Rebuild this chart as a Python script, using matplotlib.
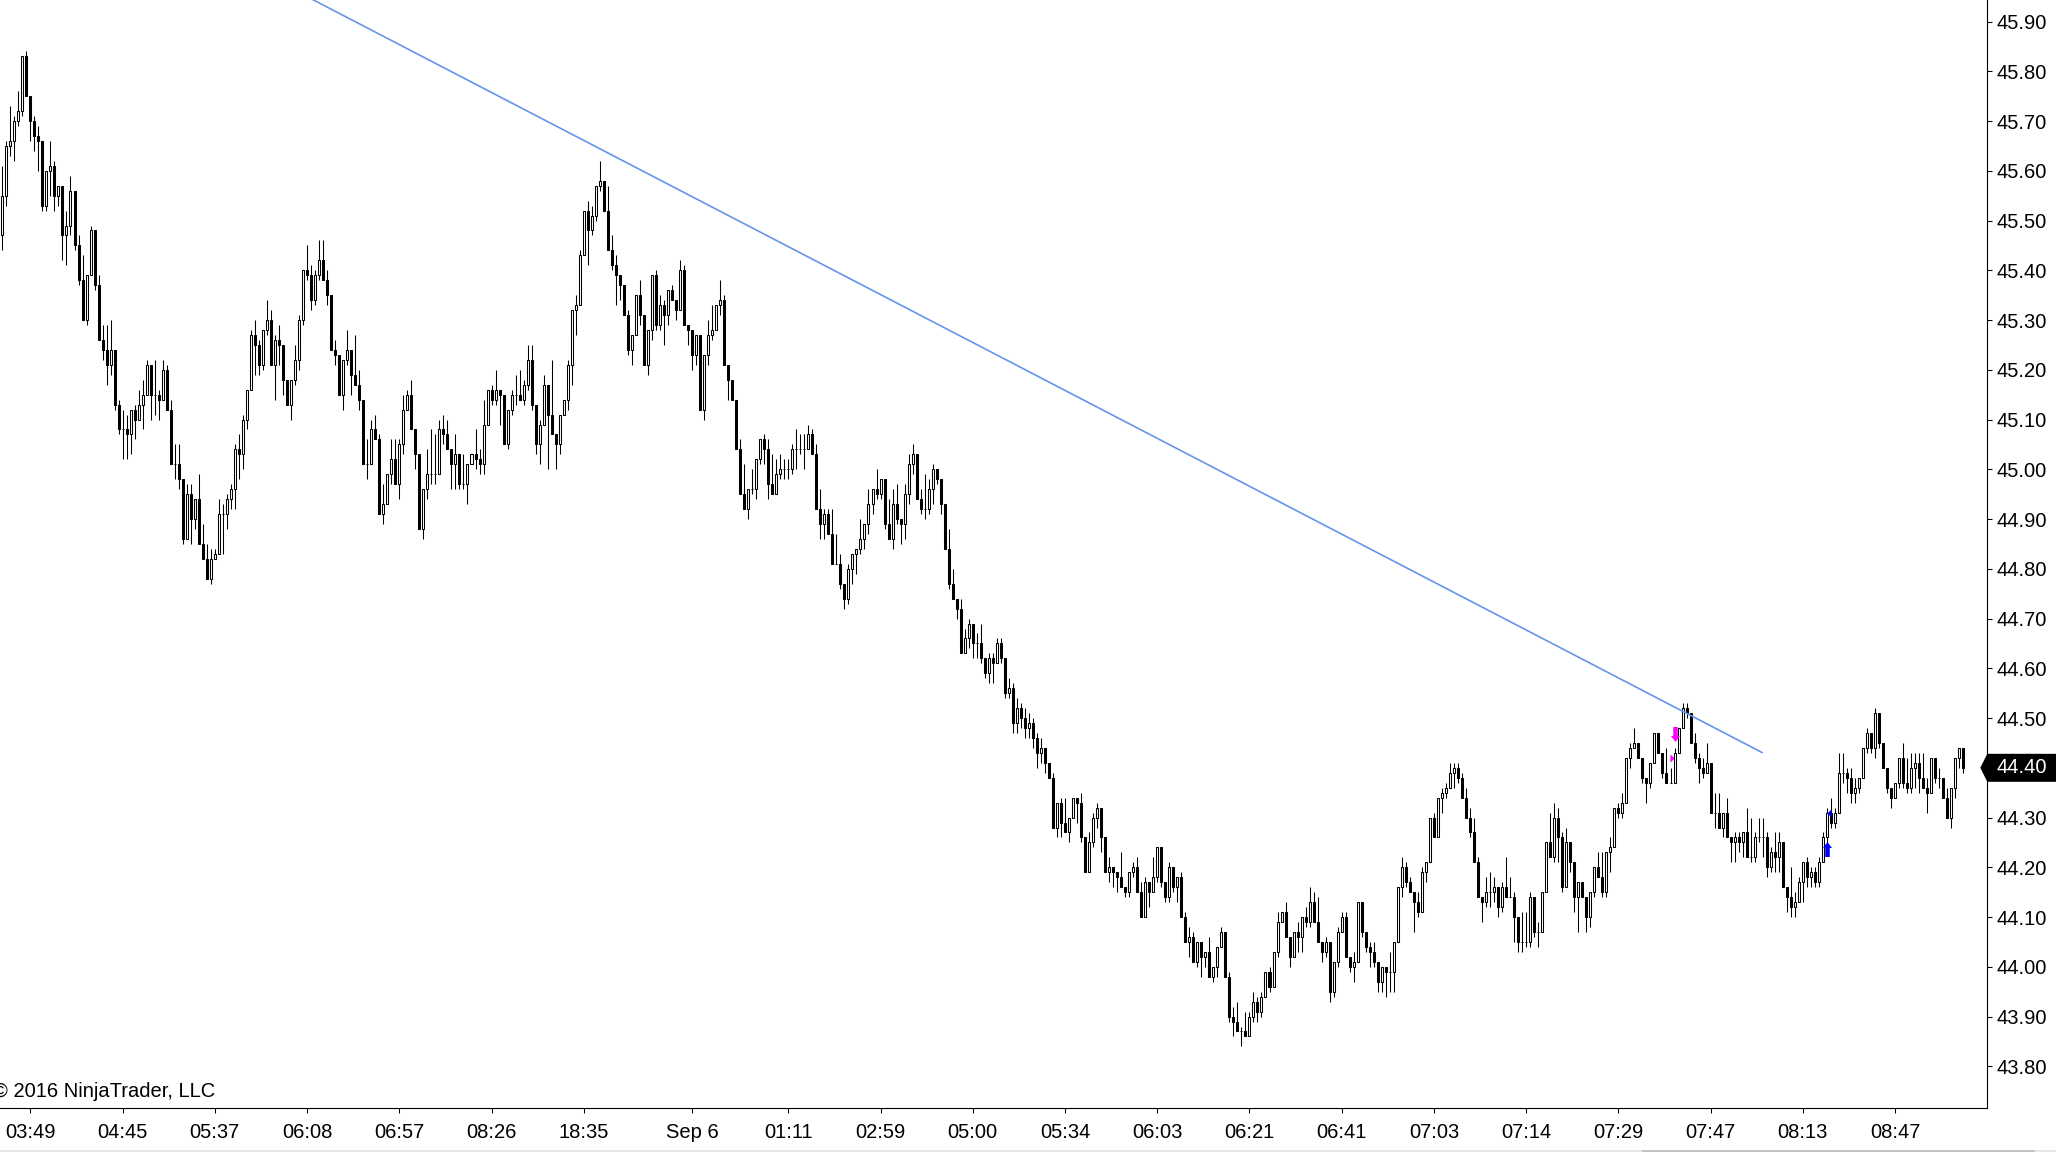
import matplotlib
matplotlib.use("Agg")
import matplotlib.pyplot as plt
from matplotlib.path import Path
from matplotlib.patches import Polygon, Rectangle
from matplotlib.transforms import IdentityTransform

plt.rcParams['font.family'] = ['Liberation Sans', 'DejaVu Sans']

# 1-bar candles (open = previous close)
first_open = 45.47
closes = [
    45.55, 45.65, 45.66, 45.70, 45.72, 45.83, 45.75, 45.70, 45.67, 45.66,
    45.53, 45.60, 45.61, 45.55, 45.57, 45.47, 45.49, 45.56, 45.45, 45.38,
    45.30, 45.39, 45.48, 45.37, 45.26, 45.24, 45.21, 45.24, 45.13, 45.08,
    45.08, 45.07, 45.12, 45.10, 45.13, 45.15, 45.21, 45.15, 45.15, 45.14,
    45.20, 45.12, 45.01, 45.01, 44.98, 44.86, 44.95, 44.90, 44.94, 44.85,
    44.82, 44.78, 44.82, 44.83, 44.91, 44.91, 44.94, 44.96, 45.04, 45.03,
    45.10, 45.16, 45.27, 45.25, 45.21, 45.28, 45.30, 45.21, 45.26, 45.25,
    45.18, 45.13, 45.18, 45.22, 45.30, 45.40, 45.39, 45.34, 45.39, 45.42,
    45.38, 45.35, 45.24, 45.23, 45.15, 45.22, 45.24, 45.19, 45.17, 45.14,
    45.01, 45.01, 45.08, 45.06, 44.91, 44.93, 44.99, 45.02, 44.97, 45.05,
    45.12, 45.15, 45.08, 45.03, 44.88, 44.96, 44.99, 44.99, 44.99, 45.08,
    45.07, 45.04, 45.01, 45.03, 44.97, 44.97, 45.01, 45.03, 45.02, 45.01,
    45.09, 45.16, 45.14, 45.16, 45.15, 45.05, 45.12, 45.15, 45.15, 45.14,
    45.17, 45.22, 45.13, 45.05, 45.09, 45.17, 45.11, 45.07, 45.05, 45.11,
    45.14, 45.21, 45.32, 45.33, 45.43, 45.52, 45.48, 45.51, 45.57, 45.58,
    45.52, 45.44, 45.41, 45.39, 45.37, 45.31, 45.24, 45.27, 45.35, 45.31,
    45.21, 45.28, 45.39, 45.29, 45.33, 45.31, 45.36, 45.34, 45.32, 45.40,
    45.29, 45.28, 45.23, 45.27, 45.12, 45.23, 45.27, 45.28, 45.33, 45.34,
    45.21, 45.18, 45.14, 45.04, 44.95, 44.92, 44.96, 44.96, 45.02, 45.06,
    45.04, 44.97, 44.95, 44.99, 45.00, 45.00, 45.00, 45.04, 45.04, 45.04,
    45.04, 45.07, 45.03, 44.92, 44.89, 44.91, 44.87, 44.81, 44.81, 44.77,
    44.74, 44.80, 44.83, 44.84, 44.86, 44.89, 44.93, 44.96, 44.95, 44.98,
    44.89, 44.86, 44.93, 44.90, 44.89, 44.95, 45.01, 45.03, 44.94, 44.92,
    44.92, 44.96, 45.00, 44.98, 44.93, 44.84, 44.77, 44.74, 44.72, 44.63,
    44.66, 44.69, 44.65, 44.65, 44.62, 44.59, 44.62, 44.61, 44.65, 44.62,
    44.55, 44.56, 44.49, 44.52, 44.50, 44.48, 44.49, 44.46, 44.43, 44.44,
    44.41, 44.38, 44.28, 44.33, 44.29, 44.27, 44.30, 44.34, 44.33, 44.26,
    44.19, 44.25, 44.30, 44.32, 44.26, 44.19, 44.20, 44.19, 44.18, 44.16,
    44.15, 44.19, 44.20, 44.15, 44.10, 44.17, 44.15, 44.18, 44.24, 44.17,
    44.14, 44.20, 44.16, 44.18, 44.10, 44.05, 44.06, 44.01, 44.05, 44.02,
    44.03, 43.98, 44.00, 44.04, 44.07, 43.98, 43.90, 43.89, 43.87, 43.87,
    43.86, 43.90, 43.93, 43.91, 43.94, 43.99, 43.96, 44.03, 44.09, 44.11,
    44.06, 44.02, 44.07, 44.06, 44.10, 44.09, 44.13, 44.09, 44.05, 44.03,
    44.05, 43.95, 44.01, 44.07, 44.10, 44.02, 44.00, 44.01, 44.13, 44.07,
    44.04, 44.03, 44.01, 43.97, 44.00, 43.99, 43.99, 44.05, 44.16, 44.20,
    44.17, 44.15, 44.13, 44.11, 44.19, 44.21, 44.30, 44.26, 44.34, 44.35,
    44.36, 44.39, 44.40, 44.38, 44.34, 44.30, 44.27, 44.21, 44.14, 44.13,
    44.15, 44.15, 44.16, 44.12, 44.16, 44.14, 44.14, 44.10, 44.05, 44.05,
    44.05, 44.14, 44.07, 44.07, 44.15, 44.25, 44.22, 44.30, 44.26, 44.16,
    44.25, 44.21, 44.14, 44.17, 44.14, 44.10, 44.15, 44.20, 44.18, 44.15,
    44.23, 44.24, 44.32, 44.31, 44.33, 44.42, 44.44, 44.45, 44.42, 44.38,
    44.37, 44.41, 44.47, 44.43, 44.39, 44.37, 44.37, 44.43, 44.48, 44.52,
    44.51, 44.45, 44.42, 44.40, 44.39, 44.41, 44.31, 44.31, 44.28, 44.31,
    44.26, 44.25, 44.26, 44.25, 44.27, 44.22, 44.22, 44.26, 44.26, 44.26,
    44.20, 44.23, 44.22, 44.25, 44.16, 44.14, 44.12, 44.13, 44.17, 44.21,
    44.18, 44.19, 44.17, 44.21, 44.26, 44.31, 44.29, 44.31, 44.39, 44.39,
    44.38, 44.35, 44.36, 44.38, 44.44, 44.47, 44.44, 44.51, 44.45, 44.40,
    44.36, 44.34, 44.37, 44.42, 44.37, 44.36, 44.40, 44.41, 44.38, 44.36,
    44.35, 44.42, 44.38, 44.38, 44.34, 44.30, 44.36, 44.42, 44.44, 44.40,
]
highs = [
    45.61, 45.66, 45.73, 45.71, 45.76, 45.83, 45.84, 45.75, 45.71, 45.69,
    45.66, 45.60, 45.66, 45.62, 45.57, 45.57, 45.52, 45.59, 45.56, 45.47,
    45.43, 45.39, 45.49, 45.48, 45.39, 45.29, 45.29, 45.30, 45.24, 45.14,
    45.12, 45.11, 45.12, 45.13, 45.16, 45.18, 45.22, 45.21, 45.22, 45.16,
    45.22, 45.21, 45.14, 45.05, 45.05, 44.98, 44.97, 44.97, 44.94, 44.99,
    44.89, 44.85, 44.84, 44.84, 44.94, 44.93, 44.95, 44.97, 45.05, 45.07,
    45.11, 45.16, 45.28, 45.30, 45.26, 45.28, 45.34, 45.32, 45.27, 45.29,
    45.25, 45.17, 45.18, 45.25, 45.31, 45.40, 45.45, 45.41, 45.40, 45.46,
    45.46, 45.40, 45.35, 45.26, 45.23, 45.22, 45.28, 45.24, 45.27, 45.20,
    45.14, 45.06, 45.10, 45.11, 45.07, 44.97, 44.99, 45.06, 45.06, 45.06,
    45.15, 45.16, 45.18, 45.08, 45.03, 44.96, 45.04, 45.08, 45.07, 45.10,
    45.11, 45.10, 45.04, 45.07, 45.03, 45.03, 45.01, 45.03, 45.08, 45.04,
    45.14, 45.16, 45.17, 45.20, 45.16, 45.15, 45.12, 45.16, 45.19, 45.20,
    45.18, 45.25, 45.25, 45.13, 45.10, 45.19, 45.11, 45.22, 45.07, 45.11,
    45.14, 45.22, 45.32, 45.35, 45.44, 45.52, 45.54, 45.53, 45.57, 45.62,
    45.58, 45.57, 45.47, 45.43, 45.39, 45.37, 45.32, 45.27, 45.35, 45.38,
    45.31, 45.28, 45.39, 45.40, 45.35, 45.34, 45.36, 45.37, 45.34, 45.42,
    45.41, 45.29, 45.28, 45.27, 45.27, 45.23, 45.30, 45.33, 45.33, 45.38,
    45.35, 45.21, 45.18, 45.14, 45.06, 45.01, 44.96, 45.00, 45.02, 45.06,
    45.07, 45.06, 45.03, 45.02, 45.03, 45.02, 45.02, 45.05, 45.08, 45.07,
    45.07, 45.09, 45.08, 45.05, 44.96, 44.92, 44.92, 44.92, 44.87, 44.83,
    44.77, 44.81, 44.83, 44.84, 44.90, 44.89, 44.96, 44.96, 45.00, 44.98,
    44.98, 44.94, 44.96, 44.97, 44.90, 44.97, 45.03, 45.05, 45.02, 44.96,
    44.99, 44.98, 45.01, 45.00, 44.98, 44.93, 44.88, 44.80, 44.74, 44.74,
    44.68, 44.70, 44.69, 44.67, 44.69, 44.62, 44.63, 44.63, 44.66, 44.66,
    44.62, 44.58, 44.57, 44.54, 44.53, 44.52, 44.51, 44.50, 44.47, 44.46,
    44.44, 44.41, 44.39, 44.33, 44.34, 44.34, 44.30, 44.34, 44.34, 44.35,
    44.26, 44.27, 44.31, 44.33, 44.32, 44.26, 44.22, 44.20, 44.19, 44.23,
    44.16, 44.19, 44.21, 44.22, 44.17, 44.18, 44.17, 44.22, 44.24, 44.24,
    44.17, 44.21, 44.20, 44.18, 44.19, 44.11, 44.08, 44.07, 44.05, 44.05,
    44.03, 44.06, 44.00, 44.04, 44.08, 44.07, 43.99, 43.92, 43.93, 43.88,
    43.91, 43.91, 43.95, 43.94, 43.95, 43.99, 44.00, 44.03, 44.11, 44.11,
    44.13, 44.06, 44.07, 44.09, 44.10, 44.12, 44.16, 44.15, 44.14, 44.05,
    44.06, 44.05, 44.01, 44.08, 44.11, 44.11, 44.02, 44.03, 44.13, 44.13,
    44.07, 44.05, 44.05, 44.01, 44.00, 44.00, 44.03, 44.05, 44.16, 44.22,
    44.21, 44.18, 44.15, 44.15, 44.20, 44.21, 44.30, 44.31, 44.34, 44.36,
    44.37, 44.41, 44.41, 44.41, 44.39, 44.36, 44.32, 44.30, 44.22, 44.14,
    44.18, 44.19, 44.18, 44.16, 44.17, 44.22, 44.18, 44.15, 44.10, 44.11,
    44.11, 44.15, 44.14, 44.09, 44.15, 44.25, 44.31, 44.33, 44.32, 44.27,
    44.28, 44.25, 44.21, 44.17, 44.17, 44.14, 44.15, 44.20, 44.23, 44.23,
    44.23, 44.26, 44.32, 44.33, 44.35, 44.42, 44.45, 44.48, 44.45, 44.42,
    44.38, 44.41, 44.47, 44.47, 44.43, 44.44, 44.40, 44.44, 44.48, 44.53,
    44.53, 44.51, 44.47, 44.43, 44.42, 44.45, 44.41, 44.35, 44.35, 44.31,
    44.34, 44.26, 44.27, 44.27, 44.27, 44.32, 44.30, 44.27, 44.30, 44.30,
    44.27, 44.24, 44.27, 44.27, 44.25, 44.16, 44.20, 44.15, 44.18, 44.21,
    44.22, 44.20, 44.20, 44.22, 44.27, 44.32, 44.34, 44.32, 44.43, 44.43,
    44.40, 44.40, 44.38, 44.38, 44.44, 44.48, 44.47, 44.52, 44.51, 44.45,
    44.40, 44.36, 44.37, 44.42, 44.45, 44.42, 44.43, 44.43, 44.43, 44.43,
    44.38, 44.42, 44.42, 44.40, 44.38, 44.36, 44.36, 44.42, 44.44, 44.44,
]
lows = [
    45.44, 45.53, 45.63, 45.62, 45.69, 45.71, 45.75, 45.66, 45.64, 45.60,
    45.52, 45.52, 45.55, 45.52, 45.53, 45.42, 45.41, 45.47, 45.44, 45.37,
    45.30, 45.29, 45.39, 45.36, 45.26, 45.22, 45.17, 45.19, 45.12, 45.07,
    45.02, 45.02, 45.03, 45.06, 45.10, 45.08, 45.15, 45.10, 45.11, 45.10,
    45.14, 45.12, 45.01, 44.98, 44.96, 44.85, 44.86, 44.85, 44.88, 44.85,
    44.82, 44.78, 44.77, 44.82, 44.83, 44.83, 44.88, 44.92, 44.92, 44.98,
    45.00, 45.08, 45.19, 45.19, 45.19, 45.20, 45.27, 45.21, 45.14, 45.21,
    45.15, 45.13, 45.10, 45.17, 45.20, 45.29, 45.38, 45.32, 45.33, 45.38,
    45.38, 45.33, 45.24, 45.21, 45.15, 45.12, 45.21, 45.15, 45.17, 45.12,
    45.01, 44.98, 45.01, 45.06, 44.91, 44.89, 44.93, 44.97, 44.97, 44.94,
    45.03, 45.12, 45.08, 45.00, 44.88, 44.86, 44.94, 44.97, 44.97, 44.99,
    45.05, 45.04, 44.96, 44.96, 44.96, 44.96, 44.93, 45.01, 45.00, 44.99,
    44.99, 45.09, 45.13, 45.13, 45.09, 45.05, 45.04, 45.11, 45.13, 45.14,
    45.13, 45.16, 45.12, 45.03, 45.01, 45.09, 45.00, 45.07, 45.00, 45.03,
    45.11, 45.12, 45.17, 45.27, 45.33, 45.43, 45.41, 45.47, 45.50, 45.56,
    45.52, 45.44, 45.40, 45.33, 45.34, 45.31, 45.23, 45.21, 45.27, 45.29,
    45.21, 45.19, 45.26, 45.28, 45.28, 45.25, 45.29, 45.34, 45.30, 45.32,
    45.29, 45.25, 45.20, 45.21, 45.12, 45.10, 45.21, 45.26, 45.28, 45.31,
    45.21, 45.14, 45.14, 45.04, 44.95, 44.92, 44.90, 44.95, 44.94, 45.01,
    45.01, 44.94, 44.95, 44.95, 44.98, 44.98, 44.98, 44.99, 45.00, 45.03,
    45.00, 45.04, 45.03, 44.92, 44.86, 44.86, 44.87, 44.81, 44.81, 44.76,
    44.72, 44.73, 44.77, 44.79, 44.83, 44.84, 44.87, 44.91, 44.94, 44.94,
    44.88, 44.86, 44.84, 44.89, 44.85, 44.86, 44.93, 44.99, 44.94, 44.91,
    44.90, 44.91, 44.93, 44.97, 44.91, 44.84, 44.76, 44.74, 44.70, 44.63,
    44.63, 44.64, 44.62, 44.62, 44.61, 44.58, 44.57, 44.57, 44.61, 44.61,
    44.54, 44.54, 44.47, 44.47, 44.48, 44.46, 44.46, 44.44, 44.40, 44.41,
    44.39, 44.38, 44.28, 44.26, 44.26, 44.27, 44.25, 44.30, 44.29, 44.25,
    44.19, 44.19, 44.24, 44.28, 44.23, 44.19, 44.17, 44.16, 44.15, 44.16,
    44.14, 44.14, 44.18, 44.15, 44.10, 44.10, 44.12, 44.15, 44.17, 44.16,
    44.13, 44.13, 44.15, 44.13, 44.10, 44.05, 44.02, 44.01, 44.00, 43.98,
    44.00, 43.98, 43.97, 43.98, 44.04, 43.98, 43.89, 43.86, 43.87, 43.84,
    43.86, 43.86, 43.89, 43.89, 43.90, 43.94, 43.95, 43.96, 44.02, 44.09,
    44.06, 44.00, 44.02, 44.03, 44.03, 44.08, 44.08, 44.09, 44.05, 44.01,
    44.02, 43.93, 43.94, 44.00, 44.07, 44.02, 43.99, 43.97, 44.01, 44.06,
    44.03, 44.00, 44.00, 43.95, 43.95, 43.94, 43.95, 43.95, 44.05, 44.14,
    44.16, 44.15, 44.07, 44.10, 44.11, 44.17, 44.21, 44.26, 44.26, 44.31,
    44.34, 44.36, 44.36, 44.37, 44.34, 44.30, 44.26, 44.21, 44.14, 44.09,
    44.12, 44.12, 44.13, 44.10, 44.11, 44.14, 44.14, 44.05, 44.03, 44.03,
    44.04, 44.04, 44.06, 44.04, 44.07, 44.15, 44.22, 44.21, 44.21, 44.15,
    44.16, 44.19, 44.11, 44.07, 44.14, 44.07, 44.08, 44.14, 44.18, 44.14,
    44.14, 44.19, 44.24, 44.30, 44.30, 44.33, 44.40, 44.44, 44.42, 44.37,
    44.33, 44.36, 44.41, 44.43, 44.38, 44.37, 44.37, 44.37, 44.43, 44.48,
    44.50, 44.45, 44.41, 44.37, 44.38, 44.39, 44.31, 44.28, 44.28, 44.26,
    44.26, 44.21, 44.21, 44.23, 44.22, 44.22, 44.21, 44.21, 44.25, 44.22,
    44.18, 44.19, 44.19, 44.19, 44.16, 44.11, 44.10, 44.10, 44.13, 44.13,
    44.16, 44.16, 44.16, 44.16, 44.21, 44.24, 44.28, 44.28, 44.31, 44.37,
    44.35, 44.33, 44.33, 44.35, 44.38, 44.43, 44.43, 44.42, 44.44, 44.40,
    44.35, 44.32, 44.34, 44.36, 44.36, 44.35, 44.35, 44.36, 44.35, 44.36,
    44.31, 44.35, 44.37, 44.36, 44.34, 44.30, 44.28, 44.34, 44.40, 44.39,
]

tick_bars = [7, 30, 53, 76, 99, 122, 145, 172, 196, 219, 242,
             265, 288, 311, 334, 357, 380, 403, 426, 449, 472]
tick_labels = ['03:49', '04:45', '05:37', '06:08', '06:57', '08:26', '18:35',
               'Sep 6', '01:11', '02:59', '05:00', '05:34', '06:03', '06:21',
               '06:41', '07:03', '07:14', '07:29', '07:47', '08:13', '08:47']
price_ticks = [43.80, 43.90, 44.00, 44.10, 44.20, 44.30, 44.40, 44.50, 44.60, 44.70, 44.80,
               44.90, 45.00, 45.10, 45.20, 45.30, 45.40, 45.50, 45.60, 45.70, 45.80, 45.90]

# trend line anchors (bar, price)
trend_bars = [76, 439]
trend_prices = [45.95, 44.43]

# executions
sell_bar, sell_arrow_price, sell_fill_price = 417, 44.468, 44.42
buy_bar, buy_arrow_price, buy_fill_price = 455, 44.236, 44.31

W, H = 2056, 1152
fig = plt.figure(figsize=(W / 100, H / 100), dpi=100)
fig.patch.set_facecolor('white')
ax = fig.add_axes([0, 43.7 / H, 1987.3 / W, 1108.3 / H])

n = len(closes)
xs = list(range(n))
opens = [first_open] + closes[:-1]
hi = [max(h, o, c) for h, o, c in zip(highs, opens, closes)]
lo = [min(l, o, c) for l, o, c in zip(lows, opens, closes)]

ax.vlines(xs, lo, hi, color='black', lw=0.75, zorder=2)
bottoms = [min(o, c) for o, c in zip(opens, closes)]
heights = [abs(c - o) for o, c in zip(opens, closes)]
fills = ['white' if c > o else 'black' for o, c in zip(opens, closes)]
ax.bar(xs, heights, bottom=bottoms, width=0.5, color=fills,
       edgecolor='black', linewidth=0.75, zorder=3)

ax.plot(trend_bars, trend_prices, color='#6495ED', lw=1.2, zorder=4,
        solid_capstyle='butt')

# execution markers
down_arrow = Path([(-0.15, 0.5), (0.15, 0.5), (0.15, -0.1), (0.3, -0.1), (0, -0.5),
                   (-0.3, -0.1), (-0.15, -0.1), (-0.15, 0.5)], closed=True)
up_arrow = Path([(x, -y) for x, y in down_arrow.vertices], closed=True)
tri_right = Path([(-0.25, 0.5), (0.25, 0), (-0.25, -0.5), (-0.25, 0.5)], closed=True)
tri_left = Path([(0.25, 0.5), (-0.25, 0), (0.25, -0.5), (0.25, 0.5)], closed=True)

ax.plot([sell_bar], [sell_arrow_price], marker=down_arrow, ms=10.8, color='#FF00FF',
        mec='#FF00FF', mew=0, ls='none', zorder=5)
ax.plot([sell_bar - 0.55], [sell_fill_price], marker=tri_right, ms=6, color='#FF00FF',
        mew=0, ls='none', zorder=5)
ax.plot([buy_bar], [buy_arrow_price], marker=up_arrow, ms=10.8, color='#0000FF',
        mew=0, ls='none', zorder=5)
ax.plot([buy_bar + 0.55], [buy_fill_price], marker=tri_left, ms=6, color='#0000FF',
        mew=0, ls='none', zorder=5)

ax.set_xlim(-0.58, 495.0)
ax.set_ylim(43.7156, 45.9433)

ax.spines['left'].set_visible(False)
ax.spines['top'].set_visible(False)
for s in ('right', 'bottom'):
    ax.spines[s].set_linewidth(0.8)
    ax.spines[s].set_color('black')

ax.yaxis.tick_right()
ax.set_yticks(price_ticks)
ax.set_yticklabels([f'{p:.2f}' for p in price_ticks])
ax.set_xticks(tick_bars)
ax.set_xticklabels(tick_labels)
ax.tick_params(axis='y', direction='out', length=3.6, width=0.75, pad=3, labelsize=14.5)
ax.tick_params(axis='x', direction='out', length=3.6, width=0.75, pad=7, labelsize=14.5)

# watermark; the reference crops its first glyph at the left edge
ax.annotate('\u00a9 2016 NinjaTrader, LLC', xy=(0, 0), xycoords='axes fraction',
            xytext=(-7, 11), textcoords='offset pixels', ha='left', va='baseline',
            fontsize=14.5, color='black')

# last price marker on the price axis
fig.canvas.draw()
last = closes[-1]
y_px = ax.transData.transform((0, last))[1]
x_r = ax.transAxes.transform((1, 0))[0]
tag = Polygon([(x_r - 7, y_px), (x_r, y_px + 14), (W, y_px + 14), (W, y_px - 14), (x_r, y_px - 14)],
              closed=True, facecolor='black', edgecolor='none', transform=IdentityTransform(),
              clip_on=False, zorder=10)
fig.add_artist(tag)
fig.text((x_r + 9) / W, y_px / H, f'{last:.2f}', color='white', fontsize=14.5,
         ha='left', va='center', zorder=11)

# scrollbar strip at the bottom
fig.add_artist(Rectangle((0, 0), 1, 2 / H, transform=fig.transFigure,
                         facecolor='#e6e6e6', edgecolor='none'))
fig.add_artist(Rectangle((1642 / W, 0), 393 / W, 2 / H, transform=fig.transFigure,
                         facecolor='#c4c4c4', edgecolor='none'))

fig.savefig('out.png', dpi=100)
